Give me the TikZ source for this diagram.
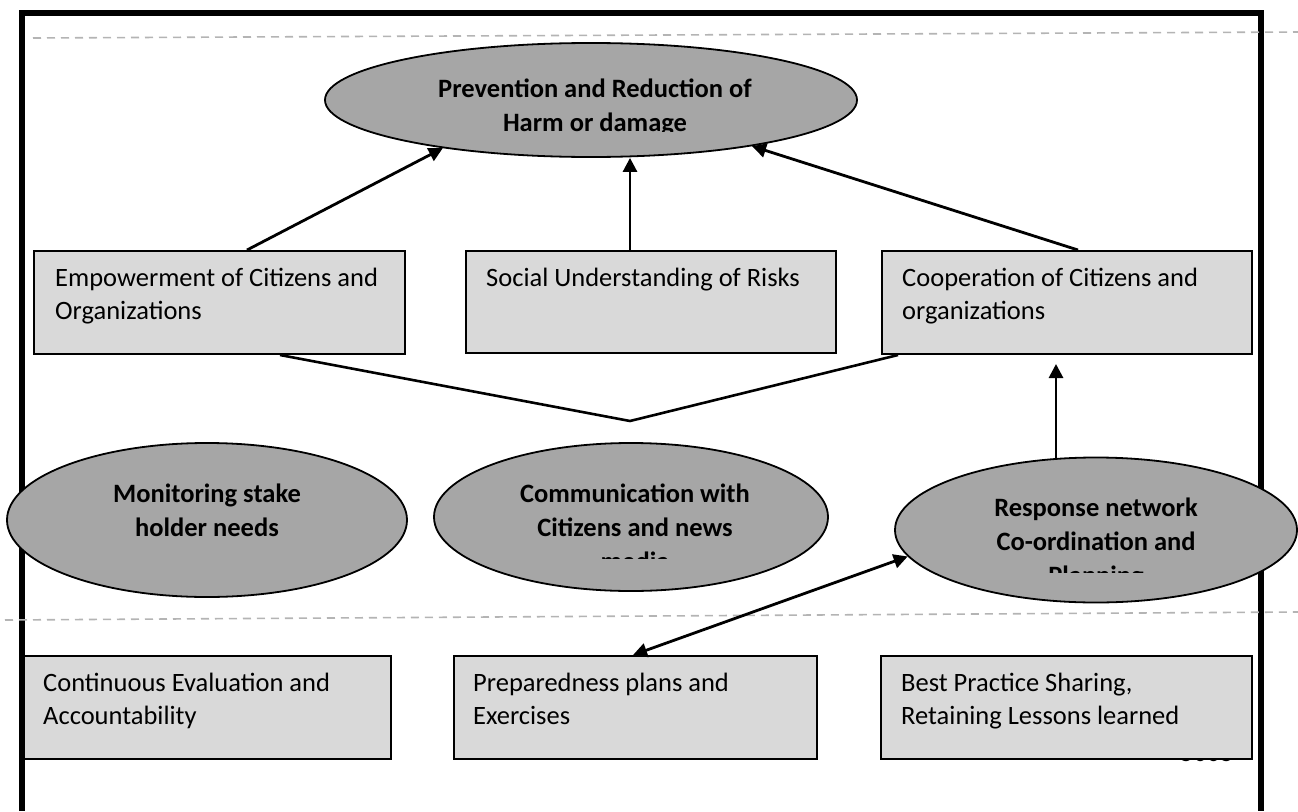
\documentclass[tikz,border=0pt]{standalone}
\usepackage{fontspec}
\setmainfont{Carlito}
\usetikzlibrary{shapes.geometric,arrows.meta,calc}
\definecolor{boxfill}{HTML}{D9D9D9}
\definecolor{ellfill}{HTML}{A6A6A6}
\definecolor{dashgray}{HTML}{B4B4B4}
\begin{document}
\begin{tikzpicture}[x=1pt,y=-1pt,
  frame/.style={line width=6pt},
  guide/.style={draw=dashgray,line width=1.6pt,dash pattern=on 8pt off 6pt},
  boxnode/.style={draw,fill=boxfill,line width=2pt,rectangle,inner sep=0pt,anchor=north west},
  ellnode/.style={draw,fill=ellfill,line width=1.8pt,ellipse,inner sep=0pt},
  txt/.style={inner sep=0pt,align=left,font=\fontsize{26.5pt}{33pt}\selectfont,anchor=base west},
  btxt/.style={inner sep=0pt,align=center,font=\fontsize{26.5pt}{34pt}\selectfont\bfseries,anchor=base},
  arr/.style={line width=2.8pt,-{Triangle[length=14pt,width=14pt]}},
  darr/.style={line width=2.8pt,{Triangle[length=14pt,width=14pt]}-{Triangle[length=14pt,width=14pt]}},
  link/.style={line width=2.6pt}]
\useasboundingbox (0,0) rectangle (1298,811);
\fill[white] (0,0) rectangle (1298,811);

% outer frame
\draw[frame] (22,811) -- (22,13) -- (1261,13) -- (1261,811);

% dashed guides
\coordinate (g1a) at (33,38);
\coordinate (g1b) at (1298,32);
\coordinate (g2a) at (5,620);
\coordinate (g2b) at (1298,612);
\draw[guide] (g1a) -- (g1b);
\draw[guide] (g2a) -- (g2b);

% page number partly hidden
\node[inner sep=0pt,anchor=base east,font=\fontsize{26.5pt}{33pt}\selectfont] (pnum) at (1234,761) {5005};

% ellipses
\node[ellnode,minimum width=532pt,minimum height=114pt] (top) at (591,100) {};
\node[ellnode,minimum width=400pt,minimum height=154pt] (mon) at (207,520) {};
\node[ellnode,minimum width=394pt,minimum height=148pt] (com) at (631,517) {};
\node[ellnode,minimum width=402pt,minimum height=145pt] (resp) at (1096,530) {};

% ellipse texts (anchor = baseline of last line)
\begin{scope}
\clip (300,40) rectangle (880,131);
\node[btxt] (toptext) at (595,131) {Prevention and Reduction of\\Harm or damage};
\end{scope}
\node[btxt] (montext) at (207,536) {Monitoring stake\\holder needs};
\begin{scope}
\clip (430,440) rectangle (830,558);
\node[btxt] (comtext) at (635,570) {Communication with\\Citizens and news\\media};
\end{scope}
\begin{scope}
\clip (890,455) rectangle (1298,572);
\node[btxt] (resptext) at (1096,584) {Response network\\Co-ordination and\\Planning};
\end{scope}

% boxes
\node[boxnode,minimum width=371pt,minimum height=103pt] (emp) at (33,250) {};
\node[boxnode,minimum width=370pt,minimum height=102pt] (soc) at (465,250) {};
\node[boxnode,minimum width=370pt,minimum height=103pt] (coop) at (881,250) {};
\node[boxnode,minimum width=367pt,minimum height=103pt] (cont) at (23,655) {};
\node[boxnode,minimum width=363pt,minimum height=103pt] (prep) at (453,655) {};
\node[boxnode,minimum width=371pt,minimum height=103pt] (best) at (880,655) {};

% box texts (anchor = baseline of last line)
\node[txt] (emptext) at ($(emp.north west)+(22,69)$) {Empowerment of Citizens and\\Organizations};
\node[txt] (soctext) at ($(soc.north west)+(21,36)$) {Social Understanding of Risks};
\node[txt] (cooptext) at ($(coop.north west)+(21,69)$) {Cooperation of Citizens and\\organizations};
\node[txt] (conttext) at ($(cont.north west)+(20,69)$) {Continuous Evaluation and\\Accountability};
\node[txt] (preptext) at ($(prep.north west)+(20,69)$) {Preparedness plans and\\Exercises};
\node[txt] (besttext) at ($(best.north west)+(21,69)$) {Best Practice Sharing,\\Retaining Lessons learned};

% connectors to top ellipse
\coordinate (empTop) at ($(emp.north west)+(214,0)$);
\coordinate (socTop) at ($(soc.north west)+(165,0)$);
\coordinate (coopTop) at ($(coop.north west)+(197,0)$);
\draw[arr] (empTop) -- (top.198);
\draw[arr] (socTop) -- (socTop |- top.south);
\draw[arr] (coopTop) -- (top.-16);

% V-shaped link
\coordinate (empBot) at ($(emp.south west)+(247,0)$);
\coordinate (apex) at (630,421);
\coordinate (coopBot) at ($(coop.south west)+(17,0)$);
\draw[link,line join=miter] (empBot) -- (apex) -- (coopBot);

% response to cooperation
\coordinate (respTop) at ($(resp.north)+(-40,2)$);
\draw[arr,shorten >=9pt] (respTop) -- (respTop |- coop.south);

% double arrow
\coordinate (prepTop) at ($(prep.north west)+(180,0)$);
\draw[darr] (prepTop) -- (resp.188);
\end{tikzpicture}
\end{document}
